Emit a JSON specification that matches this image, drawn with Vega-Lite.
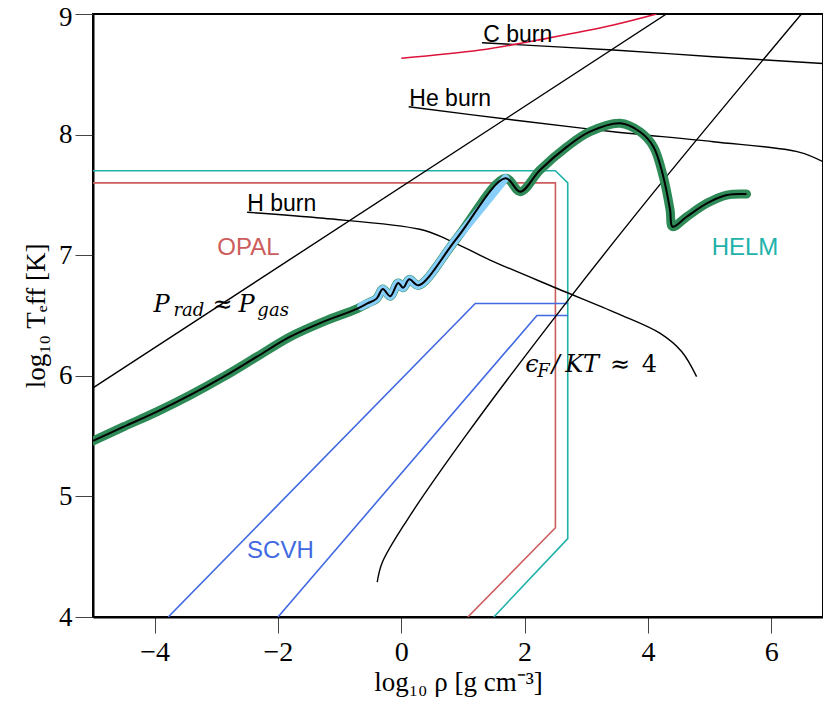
{
  "$schema": "https://vega.github.io/schema/vega-lite/v6.json",
  "width": 730,
  "height": 603,
  "autosize": "none",
  "padding": {"left": 93, "top": 14, "right": 0, "bottom": 92},
  "background": "white",
  "view": {"stroke": "black", "strokeWidth": 2},
  "datasets": {
    "regions": [
      {"s": "OPAL", "i": 0, "x": -5, "y": 7.6},
      {"s": "OPAL", "i": 1, "x": 2.5, "y": 7.6},
      {"s": "OPAL", "i": 2, "x": 2.5, "y": 4.74},
      {"s": "OPAL", "i": 3, "x": 1.08, "y": 4.0},
      {"s": "HELM", "i": 0, "x": -5, "y": 7.7},
      {"s": "HELM", "i": 1, "x": 2.5, "y": 7.7},
      {"s": "HELM", "i": 2, "x": 2.7, "y": 7.6},
      {"s": "HELM", "i": 3, "x": 2.7, "y": 4.65},
      {"s": "HELM", "i": 4, "x": 1.5, "y": 4.0},
      {"s": "SCVH1", "i": 0, "x": -3.78, "y": 4.0},
      {"s": "SCVH1", "i": 1, "x": 1.2, "y": 6.6},
      {"s": "SCVH1", "i": 2, "x": 2.7, "y": 6.6},
      {"s": "SCVH2", "i": 0, "x": -2.0, "y": 4.0},
      {"s": "SCVH2", "i": 1, "x": 2.2, "y": 6.5},
      {"s": "SCVH2", "i": 2, "x": 2.7, "y": 6.5}
    ],
    "guides": [
      {"s": "prad", "i": 0, "x": -5, "y": 5.9},
      {"s": "prad", "i": 1, "x": 4.3, "y": 9.0},
      {"s": "efermi", "i": 0, "x": -0.39, "y": 4.29},
      {"s": "efermi", "i": 1, "x": -0.31, "y": 4.45},
      {"s": "efermi", "i": 2, "x": 0.09, "y": 4.8},
      {"s": "efermi", "i": 3, "x": 1.07, "y": 5.52},
      {"s": "efermi", "i": 4, "x": 2.71, "y": 6.63},
      {"s": "efermi", "i": 5, "x": 4.25, "y": 7.62},
      {"s": "efermi", "i": 6, "x": 6.49, "y": 9.0},
      {"s": "hburn", "i": 0, "x": -2.5, "y": 7.356},
      {"s": "hburn", "i": 1, "x": -1.26, "y": 7.306},
      {"s": "hburn", "i": 2, "x": 0.3, "y": 7.215},
      {"s": "hburn", "i": 3, "x": 0.75, "y": 7.13},
      {"s": "hburn", "i": 4, "x": 1.44, "y": 6.96},
      {"s": "hburn", "i": 5, "x": 2.52, "y": 6.726},
      {"s": "hburn", "i": 6, "x": 3.5, "y": 6.518},
      {"s": "hburn", "i": 7, "x": 4.2, "y": 6.352},
      {"s": "hburn", "i": 8, "x": 4.55, "y": 6.2},
      {"s": "hburn", "i": 9, "x": 4.79, "y": 5.993},
      {"s": "heburn", "i": 0, "x": 0.12, "y": 8.231},
      {"s": "heburn", "i": 1, "x": 1.82, "y": 8.121},
      {"s": "heburn", "i": 2, "x": 3.44, "y": 8.024},
      {"s": "heburn", "i": 3, "x": 5.06, "y": 7.941},
      {"s": "heburn", "i": 4, "x": 6.45, "y": 7.855},
      {"s": "heburn", "i": 5, "x": 6.84, "y": 7.775},
      {"s": "cburn", "i": 0, "x": 1.31, "y": 8.762},
      {"s": "cburn", "i": 1, "x": 3.44, "y": 8.701},
      {"s": "cburn", "i": 2, "x": 5.06, "y": 8.646},
      {"s": "cburn", "i": 3, "x": 6.84, "y": 8.59}
    ],
    "cign": [
      {"i": 0, "x": 0.0, "y": 8.633},
      {"i": 1, "x": 1.28, "y": 8.701},
      {"i": 2, "x": 2.36, "y": 8.798},
      {"i": 3, "x": 3.44, "y": 8.909},
      {"i": 4, "x": 4.14, "y": 9.0}
    ],
    "track": [
      {"i": 0, "x": -5.0, "y": 5.46},
      {"i": 1, "x": -4.5, "y": 5.578},
      {"i": 2, "x": -3.96, "y": 5.703},
      {"i": 3, "x": -3.42, "y": 5.841},
      {"i": 4, "x": -2.88, "y": 5.993},
      {"i": 5, "x": -2.34, "y": 6.159},
      {"i": 6, "x": -1.8, "y": 6.324},
      {"i": 7, "x": -1.26, "y": 6.449},
      {"i": 8, "x": -0.72, "y": 6.555},
      {"i": 9, "x": -0.55, "y": 6.6},
      {"i": 10, "x": -0.4, "y": 6.64},
      {"i": 11, "x": -0.3, "y": 6.72},
      {"i": 12, "x": -0.18, "y": 6.66},
      {"i": 13, "x": -0.05, "y": 6.77},
      {"i": 14, "x": 0.03, "y": 6.73},
      {"i": 15, "x": 0.13, "y": 6.8},
      {"i": 16, "x": 0.28, "y": 6.75},
      {"i": 17, "x": 0.9, "y": 7.14},
      {"i": 18, "x": 1.69, "y": 7.638},
      {"i": 19, "x": 1.93, "y": 7.527},
      {"i": 20, "x": 2.25, "y": 7.706},
      {"i": 21, "x": 2.69, "y": 7.9},
      {"i": 22, "x": 3.06, "y": 8.024},
      {"i": 23, "x": 3.55, "y": 8.094},
      {"i": 24, "x": 3.87, "y": 8.024},
      {"i": 25, "x": 4.09, "y": 7.9},
      {"i": 26, "x": 4.25, "y": 7.651},
      {"i": 27, "x": 4.36, "y": 7.375},
      {"i": 28, "x": 4.4, "y": 7.236},
      {"i": 29, "x": 4.63, "y": 7.319},
      {"i": 30, "x": 4.955, "y": 7.43},
      {"i": 31, "x": 5.28, "y": 7.499},
      {"i": 32, "x": 5.6, "y": 7.507}
    ],
    "scvhtrack": [
      {"i": 0, "x": -0.65, "y": 6.575},
      {"i": 1, "x": -0.55, "y": 6.6},
      {"i": 2, "x": -0.4, "y": 6.64},
      {"i": 3, "x": -0.3, "y": 6.72},
      {"i": 4, "x": -0.18, "y": 6.66},
      {"i": 5, "x": -0.05, "y": 6.77},
      {"i": 6, "x": 0.03, "y": 6.73},
      {"i": 7, "x": 0.13, "y": 6.8},
      {"i": 8, "x": 0.28, "y": 6.75},
      {"i": 9, "x": 0.9, "y": 7.14},
      {"i": 10, "x": 1.69, "y": 7.638}
    ],
    "burnlabels": [
      {"t": "C burn", "x": 1.33, "y": 8.77},
      {"t": "He burn", "x": 0.13, "y": 8.24},
      {"t": "H burn", "x": -2.5, "y": 7.37}
    ],
    "regionlabels": [
      {"t": "OPAL", "x": -2.48, "y": 7.0},
      {"t": "HELM", "x": 5.575, "y": 7.0},
      {"t": "SCVH", "x": -1.96, "y": 4.49}
    ],
    "mathitalic": [
      {"t": "P", "x": -4.019, "y": 6.529},
      {"t": "P", "x": -2.642, "y": 6.529},
      {"t": "ϵ", "x": 2.01, "y": 6.032},
      {"t": "/", "x": 2.442, "y": 6.032},
      {"t": "KT", "x": 2.658, "y": 6.032}
    ],
    "mathupright": [
      {"t": "≈", "x": -3.063, "y": 6.529},
      {"t": "≈", "x": 3.387, "y": 6.032},
      {"t": "4", "x": 3.901, "y": 6.032}
    ],
    "mathsub": [
      {"t": "rad", "x": -3.695, "y": 6.496},
      {"t": "gas", "x": -2.334, "y": 6.496},
      {"t": "F", "x": 2.204, "y": 5.99}
    ]
  },
  "resolve": {"scale": {"color": "independent"}},
  "encoding": {
    "x": {
      "field": "x", "type": "quantitative",
      "scale": {"domain": [-5, 6.84], "nice": false, "zero": false},
      "axis": {
        "title": "log₁₀ ρ [g cm⁻³]",
        "values": [-4, -2, 0, 2, 4, 6],
        "grid": false,
        "domainColor": "black", "domainWidth": 2,
        "tickColor": "#444", "tickSize": 16, "tickWidth": 1,
        "labelFont": "Liberation Serif", "labelFontSize": 28, "labelColor": "black",
        "labelFlush": false, "labelOverlap": false, "labelPadding": 5,
        "titleFont": "Liberation Serif", "titleFontSize": 27, "titleFontWeight": "normal",
        "titleColor": "black", "titlePadding": 3
      }
    },
    "y": {
      "field": "y", "type": "quantitative",
      "scale": {"domain": [4, 9], "nice": false, "zero": false},
      "axis": {
        "title": "log₁₀ Tₑff [K]",
        "values": [4, 5, 6, 7, 8, 9],
        "grid": false,
        "domainColor": "black", "domainWidth": 2,
        "tickColor": "#444", "tickSize": 18, "tickWidth": 1,
        "labelFont": "Liberation Serif", "labelFontSize": 27, "labelColor": "black",
        "labelFlush": false, "labelOverlap": false, "labelPadding": 3,
        "labelOffset": {"condition": {"test": "datum.value === 9", "value": 3}, "value": 0},
        "titleFont": "Liberation Serif", "titleFontSize": 27, "titleFontWeight": "normal",
        "titleColor": "black", "titlePadding": 8
      }
    }
  },
  "layer": [
    {
      "data": {"name": "regions"},
      "mark": {"type": "line", "strokeWidth": 1.6, "clip": true},
      "encoding": {
        "color": {"field": "s", "type": "nominal", "legend": null,
          "scale": {"domain": ["OPAL", "HELM", "SCVH1", "SCVH2"], "range": ["#cd5c5c", "#20b2aa", "#4169e1", "#4169e1"]}},
        "detail": {"field": "s"},
        "order": {"field": "i", "type": "quantitative"}
      }
    },
    {
      "data": {"name": "guides"},
      "mark": {"type": "line", "strokeWidth": 1.4, "color": "black", "clip": true, "interpolate": "catmull-rom"},
      "encoding": {
        "detail": {"field": "s"},
        "order": {"field": "i", "type": "quantitative"}
      }
    },
    {
      "data": {"name": "cign"},
      "mark": {"type": "line", "strokeWidth": 1.6, "color": "#dc143c", "clip": true, "interpolate": "catmull-rom"},
      "encoding": {"order": {"field": "i", "type": "quantitative"}}
    },
    {
      "data": {"name": "track"},
      "mark": {"type": "line", "strokeWidth": 9, "color": "#2e8b57", "clip": true, "strokeCap": "round", "strokeJoin": "round", "interpolate": "catmull-rom"},
      "encoding": {"order": {"field": "i", "type": "quantitative"}}
    },
    {
      "data": {"name": "scvhtrack"},
      "mark": {"type": "line", "strokeWidth": 8, "color": "#87cefa", "clip": true, "strokeCap": "round", "strokeJoin": "round", "interpolate": "catmull-rom"},
      "encoding": {"order": {"field": "i", "type": "quantitative"}}
    },
    {
      "data": {"name": "track"},
      "mark": {"type": "line", "strokeWidth": 2, "color": "black", "clip": true, "interpolate": "catmull-rom"},
      "encoding": {"order": {"field": "i", "type": "quantitative"}}
    },
    {
      "data": {"name": "burnlabels"},
      "mark": {"type": "text", "align": "left", "baseline": "alphabetic", "font": "Liberation Sans", "fontSize": 23, "color": "black"},
      "encoding": {"text": {"field": "t"}}
    },
    {
      "data": {"name": "regionlabels"},
      "mark": {"type": "text", "align": "center", "baseline": "alphabetic", "font": "Liberation Sans", "fontSize": 24},
      "encoding": {
        "text": {"field": "t"},
        "color": {"field": "t", "type": "nominal", "legend": null,
          "scale": {"domain": ["OPAL", "HELM", "SCVH"], "range": ["#cd5c5c", "#20b2aa", "#4169e1"]}}
      }
    },
    {
      "data": {"name": "mathitalic"},
      "mark": {"type": "text", "align": "left", "baseline": "alphabetic", "font": "DejaVu Serif", "fontStyle": "italic", "fontSize": 24, "color": "black"},
      "encoding": {"text": {"field": "t"}}
    },
    {
      "data": {"name": "mathupright"},
      "mark": {"type": "text", "align": "left", "baseline": "alphabetic", "font": "DejaVu Serif", "fontSize": 24, "color": "black"},
      "encoding": {"text": {"field": "t"}}
    },
    {
      "data": {"name": "mathsub"},
      "mark": {"type": "text", "align": "left", "baseline": "alphabetic", "font": "DejaVu Serif", "fontStyle": "italic", "fontSize": 18, "color": "black"},
      "encoding": {"text": {"field": "t"}}
    }
  ]
}
